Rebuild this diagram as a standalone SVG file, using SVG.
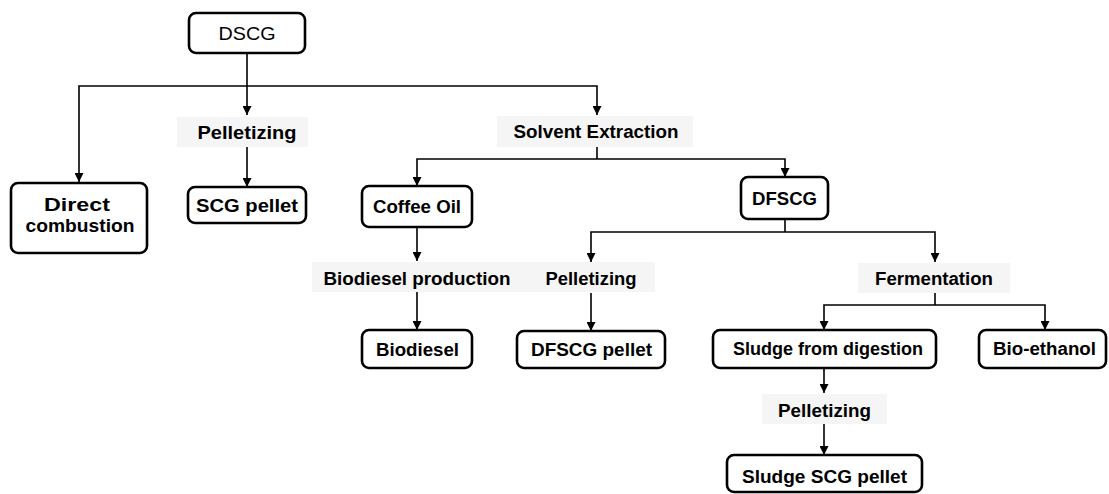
<svg xmlns="http://www.w3.org/2000/svg" width="1109" height="494" viewBox="0 0 1109 494">
<style>
.box{fill:#fff;stroke:#000;stroke-width:2.6}
.band{fill:#f5f5f5}
.t{font-family:"Liberation Sans",Arial,sans-serif;font-size:18px;font-weight:bold;fill:#000;text-anchor:middle}
.r{font-weight:normal}
.c{fill:none;stroke:#000;stroke-width:1.6}
</style>
<defs>
<marker id="ah" viewBox="0 0 10 10" refX="10" refY="5" markerWidth="9" markerHeight="9" markerUnits="userSpaceOnUse" orient="auto-start-reverse">
<path d="M0,0 L10,5 L0,10 z" fill="#000"/>
</marker>
</defs>
<rect width="1109" height="494" fill="#fff"/>
<g id="bands">
<rect class="band" x="177" y="117" width="131" height="30"/>
<rect class="band" x="497" y="116" width="196" height="31"/>
<rect class="band" x="312" y="262" width="343" height="30"/>
<rect class="band" x="858" y="263" width="152" height="30"/>
<rect class="band" x="762" y="394" width="125" height="30"/>
</g>
<g id="connectors">
<path class="c" d="M247,53 V115" marker-end="url(#ah)"/>
<path class="c" d="M79,182 V86 H597 V115" marker-start="url(#ah)" marker-end="url(#ah)"/>
<path class="c" d="M247,147 V187" marker-end="url(#ah)"/>
<path class="c" d="M597,147 V159"/>
<path class="c" d="M417,186 V159 H785 V177" marker-start="url(#ah)" marker-end="url(#ah)"/>
<path class="c" d="M417,227 V261" marker-end="url(#ah)"/>
<path class="c" d="M417,292 V330" marker-end="url(#ah)"/>
<path class="c" d="M785,219 V232"/>
<path class="c" d="M591,262 V232 H935 V262" marker-start="url(#ah)" marker-end="url(#ah)"/>
<path class="c" d="M591,293 V331" marker-end="url(#ah)"/>
<path class="c" d="M935,293 V305"/>
<path class="c" d="M824,330 V305 H1045 V330" marker-start="url(#ah)" marker-end="url(#ah)"/>
<path class="c" d="M824,368 V393" marker-end="url(#ah)"/>
<path class="c" d="M824,424 V455" marker-end="url(#ah)"/>
</g>
<g id="DSCG">
<rect class="box" x="189" y="13" width="116" height="40" rx="7"/>
<text class="t r" x="247" y="40" textLength="57" lengthAdjust="spacingAndGlyphs">DSCG</text>
</g>
<g id="Direct-combustion">
<rect class="box" x="11" y="183" width="136" height="70" rx="7"/>
<text class="t" x="77" y="211" textLength="66" lengthAdjust="spacingAndGlyphs">Direct</text>
<text class="t" x="80" y="232" textLength="109" lengthAdjust="spacingAndGlyphs">combustion</text>
</g>
<g id="Pelletizing-1">
<text class="t" x="247" y="139" textLength="99" lengthAdjust="spacingAndGlyphs">Pelletizing</text>
</g>
<g id="SCG-pellet">
<rect class="box" x="188" y="187" width="118" height="36" rx="7"/>
<text class="t" x="247" y="212" textLength="102" lengthAdjust="spacingAndGlyphs">SCG pellet</text>
</g>
<g id="Solvent-Extraction">
<text class="t" x="596" y="138" textLength="165" lengthAdjust="spacingAndGlyphs">Solvent Extraction</text>
</g>
<g id="Coffee-Oil">
<rect class="box" x="362" y="186" width="110" height="41" rx="7"/>
<text class="t" x="417" y="213" textLength="88" lengthAdjust="spacingAndGlyphs">Coffee Oil</text>
</g>
<g id="DFSCG">
<rect class="box" x="741" y="177" width="87" height="42" rx="7"/>
<text class="t" x="784.5" y="205" textLength="65" lengthAdjust="spacingAndGlyphs">DFSCG</text>
</g>
<g id="Biodiesel-production">
<text class="t" x="417" y="285" textLength="187" lengthAdjust="spacingAndGlyphs">Biodiesel production</text>
</g>
<g id="Pelletizing-2">
<text class="t" x="591" y="285" textLength="91" lengthAdjust="spacingAndGlyphs">Pelletizing</text>
</g>
<g id="Fermentation">
<text class="t" x="934" y="285" textLength="118" lengthAdjust="spacingAndGlyphs">Fermentation</text>
</g>
<g id="Biodiesel">
<rect class="box" x="362" y="330" width="110" height="38" rx="7"/>
<text class="t" x="417.5" y="356" textLength="83" lengthAdjust="spacingAndGlyphs">Biodiesel</text>
</g>
<g id="DFSCG-pellet">
<rect class="box" x="517" y="331" width="148" height="37" rx="7"/>
<text class="t" x="591.5" y="356" textLength="121" lengthAdjust="spacingAndGlyphs">DFSCG pellet</text>
</g>
<g id="Sludge-from-digestion">
<rect class="box" x="713" y="330" width="223" height="38" rx="7"/>
<text class="t" x="828" y="355" textLength="190" lengthAdjust="spacingAndGlyphs">Sludge from digestion</text>
</g>
<g id="Bio-ethanol">
<rect class="box" x="979" y="330" width="127" height="38" rx="7"/>
<text class="t" x="1044.5" y="355" textLength="103" lengthAdjust="spacingAndGlyphs">Bio-ethanol</text>
</g>
<g id="Pelletizing-3">
<text class="t" x="824.5" y="417" textLength="93" lengthAdjust="spacingAndGlyphs">Pelletizing</text>
</g>
<g id="Sludge-SCG-pellet">
<rect class="box" x="727" y="455" width="195" height="37" rx="7"/>
<text class="t" x="824.5" y="483" textLength="165" lengthAdjust="spacingAndGlyphs">Sludge SCG pellet</text>
</g>
</svg>
